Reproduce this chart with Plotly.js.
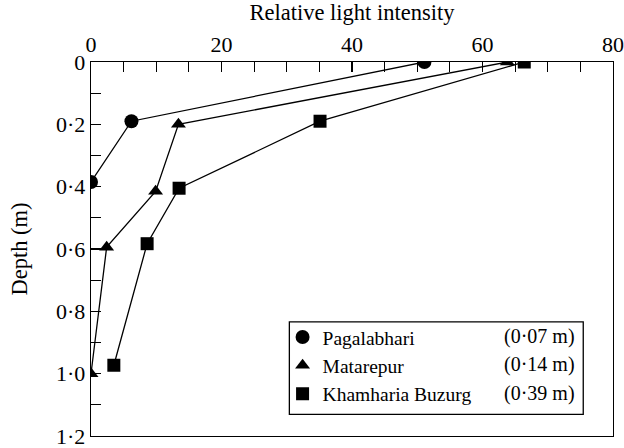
<!DOCTYPE html>
<html>
<head>
<meta charset="utf-8">
<script src="https://cdn.plot.ly/plotly-3.0.1.min.js"></script>
<style>
html,body{margin:0;padding:0;background:#fff;}
#chart{width:624px;height:448px;}
</style>
</head>
<body>
<div id="chart"></div>
<script>
// Data
const seriesNames = ["Pagalabhari", "Matarepur", "Khamharia Buzurg"];
const seriesNotes = ["(0·07 m)", "(0·14 m)", "(0·39 m)"];
const pagalabhariX = [51.1, 6.2, 0];
const pagalabhariDepth = [0, 0.19, 0.385];
const matarepurX = [63.8, 13.4, 9.9, 2.4, 0];
const matarepurDepth = [0, 0.2, 0.415, 0.594, 1.0];
const khamhariaX = [66.4, 35.1, 13.5, 8.6, 3.5];
const khamhariaDepth = [0, 0.19, 0.405, 0.583, 0.973];
const xTickVals = [0,5,10,15,20,25,30,35,40,45,50,55,60,65,70,75,80];
const xTickText = ["0","","","","20","","","","40","","","","60","","","","80"];
const yTickVals = [0,0.1,0.2,0.3,0.4,0.5,0.6,0.7,0.8,0.9,1.0,1.1,1.2];
const yTickText = ["0","","0·2","","0·4","","0·6","","0·8","","1·0","","1·2"];

const FONT = "Liberation Serif";
const xs = [pagalabhariX, matarepurX, khamhariaX];
const ys = [pagalabhariDepth, matarepurDepth, khamhariaDepth];
const symbols = ["circle", "triangle-up", "square"];
const sizes = [14, 13, 13];

const traces = [];
for (let i = 0; i < 3; i++) {
  traces.push({
    x: xs[i], y: ys[i], type: "scatter", mode: "lines",
    line: {color: "#000", width: 1.3}, showlegend: false, hoverinfo: "skip"
  });
}
for (let i = 0; i < 3; i++) {
  traces.push({
    x: xs[i], y: ys[i], type: "scatter", mode: "markers", name: seriesNames[i],
    marker: {symbol: symbols[i], size: sizes[i], color: "#000", line: {width: 0}},
    showlegend: true
  });
}

// plot area: y from 62 to 436 (height 374)
const rowY = [0.265, 0.190, 0.114];
const annotations = seriesNotes.map((t, i) => ({
  xref: "paper", yref: "paper", x: 0.931, y: rowY[i], xanchor: "right", yanchor: "middle",
  text: t, showarrow: false, font: {family: FONT, size: 20, color: "#000"}
}));

const layout = {
  width: 624, height: 448,
  margin: {l: 90.5, r: 11, t: 62, b: 12},
  paper_bgcolor: "#fff", plot_bgcolor: "#fff",
  font: {family: FONT, color: "#000", size: 22},
  showlegend: true,
  legend: {
    x: 0.367, y: 0.316, xanchor: "left", yanchor: "top",
    bgcolor: "rgba(0,0,0,0)", borderwidth: 0,
    font: {family: FONT, size: 19.5, color: "#000"},
    traceorder: "normal"
  },
  xaxis: {
    side: "top", range: [0, 80], tickmode: "array", tickvals: xTickVals, ticktext: xTickText,
    ticks: "inside", ticklen: 10, tickwidth: 1.2, tickcolor: "#000",
    showline: true, linecolor: "#000", linewidth: 1.3, mirror: true,
    showgrid: false, zeroline: false, ticklabeloverflow: "allow",
    tickfont: {family: FONT, size: 22, color: "#000"},
    title: {text: "Relative light intensity", font: {family: FONT, size: 22.5, color: "#000"}, standoff: 7}
  },
  yaxis: {
    range: [1.2, 0], tickmode: "array", tickvals: yTickVals, ticktext: yTickText,
    ticks: "inside", ticklen: 10, tickwidth: 1.2, tickcolor: "#000",
    showline: true, linecolor: "#000", linewidth: 1.3, mirror: true,
    showgrid: false, zeroline: false, ticklabeloverflow: "allow",
    tickfont: {family: FONT, size: 22, color: "#000"},
    title: {text: "Depth (m)", font: {family: FONT, size: 22.5, color: "#000"}, standoff: 22}
  },
  shapes: [{
    type: "rect", xref: "paper", yref: "paper", x0: 0.38, x1: 0.943, y0: 0.058, y1: 0.305,
    line: {color: "#000", width: 1.3}, fillcolor: "rgba(0,0,0,0)"
  }],
  annotations: annotations
};

Plotly.newPlot("chart", traces, layout, {staticPlot: true, displayModeBar: false});
</script>
</body>
</html>
